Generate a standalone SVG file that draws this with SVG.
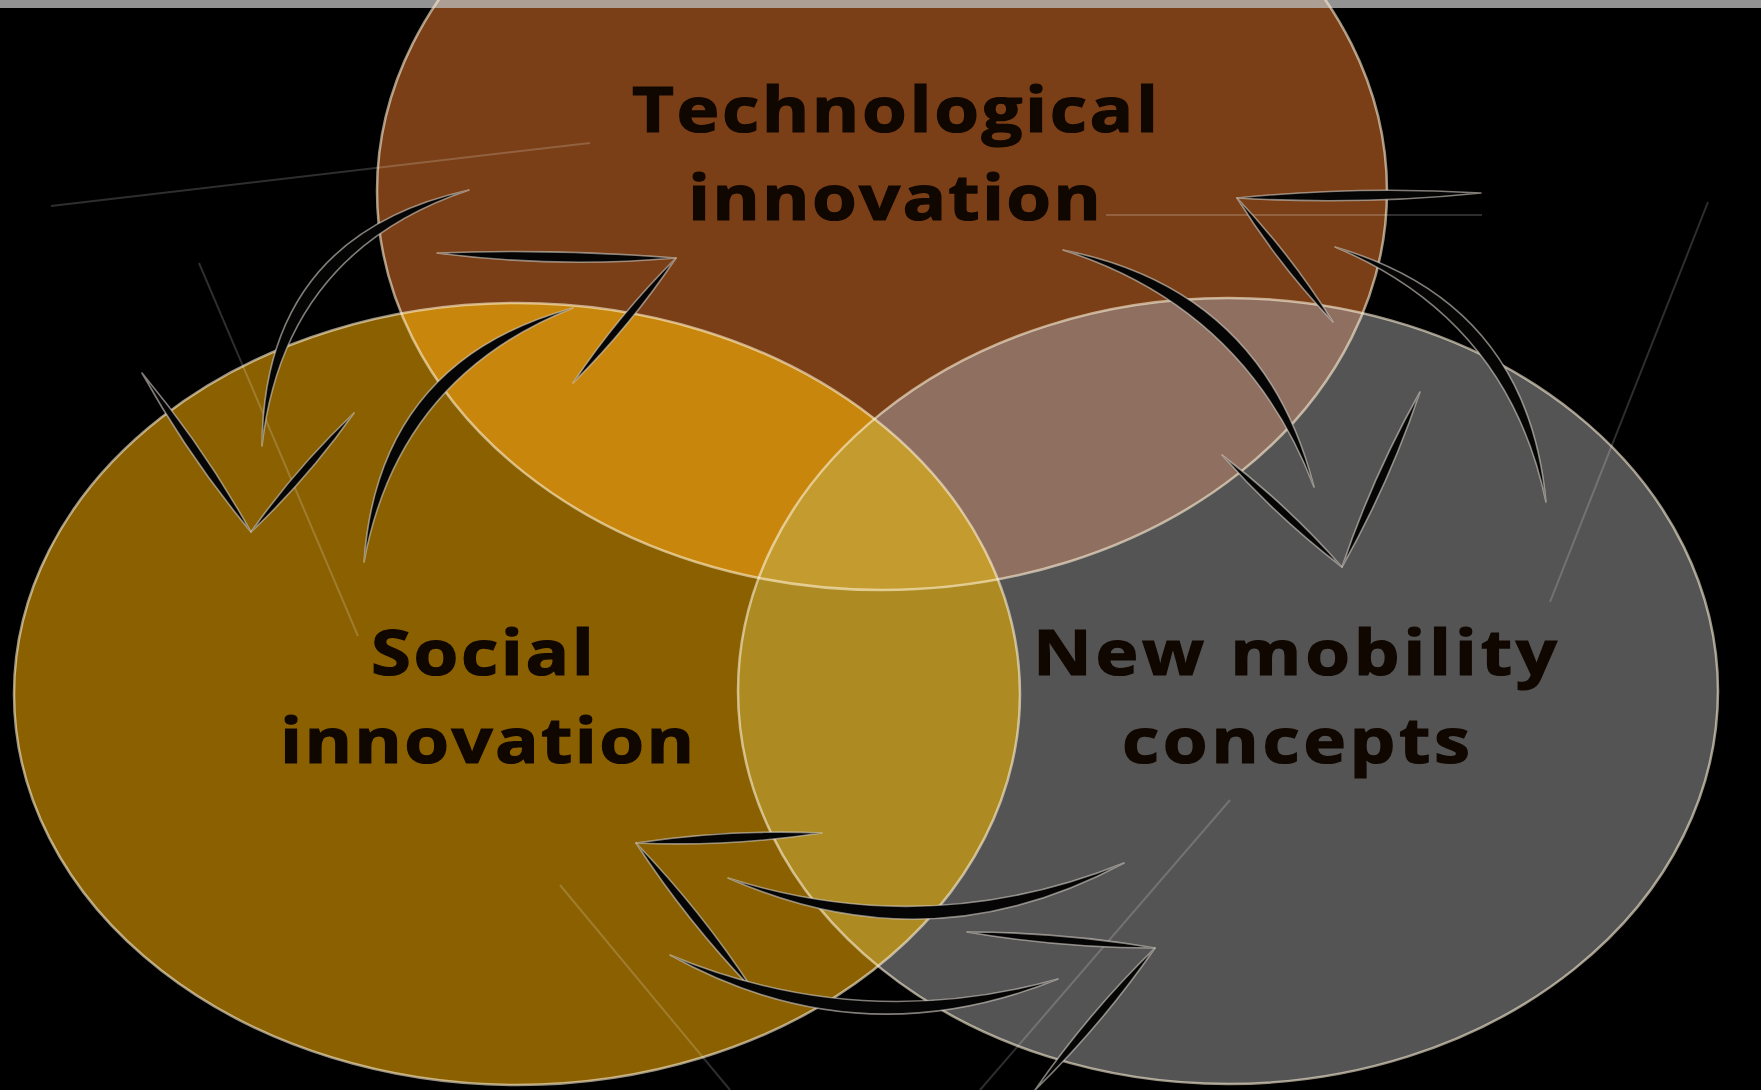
<svg xmlns="http://www.w3.org/2000/svg" width="1761" height="1090" viewBox="0 0 1761 1090">
<style>
.lbl{font-family:"Open Sans","DejaVu Sans",sans-serif;font-weight:700;font-size:63px;fill:#100700;stroke:#100700;stroke-width:1.2}
.edge{fill:none;stroke:#fff4d8;stroke-opacity:.6;stroke-width:2.5}
.faint{fill:none;stroke:#ffffff;stroke-opacity:.18;stroke-width:2}
.arr{fill:#050505;stroke:#d6d0c8;stroke-opacity:.6;stroke-width:1.6;stroke-linejoin:round}
</style>
<defs>
<clipPath id="cT"><ellipse cx="882" cy="191" rx="505" ry="399"/></clipPath>
<clipPath id="cL"><ellipse cx="517" cy="694" rx="503" ry="391"/></clipPath>
</defs>
<rect width="1761" height="1090" fill="#000"/>
<rect width="1761" height="8" fill="#939393"/>
<g id="node-tech">
<ellipse cx="882" cy="191" rx="505" ry="399" fill="#7a3f16"/>
<rect width="1761" height="8" fill="#ae9f94" clip-path="url(#cT)"/>
</g>
<g id="node-social">
<ellipse cx="517" cy="694" rx="503" ry="391" fill="#8a6000"/>
</g>
<g id="node-mobility">
<ellipse cx="1228" cy="691" rx="490" ry="393" fill="#545454"/>
</g>
<g id="overlaps">
<g clip-path="url(#cT)">
<ellipse cx="517" cy="694" rx="503" ry="391" fill="#c8860c"/>
<ellipse cx="1228" cy="691" rx="490" ry="393" fill="#8f6f5f"/>
</g>
<g clip-path="url(#cL)">
<ellipse cx="1228" cy="691" rx="490" ry="393" fill="#ad8a22"/>
<g clip-path="url(#cT)">
<ellipse cx="1228" cy="691" rx="490" ry="393" fill="#c49b2f"/>
</g>
</g>
</g>
<g id="outlines">
<ellipse class="edge" cx="882" cy="191" rx="505" ry="399"/>
<ellipse class="edge" cx="517" cy="694" rx="503" ry="391"/>
<ellipse class="edge" cx="1228" cy="691" rx="490" ry="393" stroke="#e8e8e8"/>
</g>
<g id="faint-lines">
<line class="faint" x1="51" y1="206" x2="590" y2="143"/>
<line class="faint" x1="199" y1="263" x2="358" y2="636"/>
<line class="faint" x1="1106" y1="215" x2="1482" y2="215"/>
<line class="faint" x1="1708" y1="202" x2="1550" y2="602"/>
<line class="faint" x1="560" y1="885" x2="730" y2="1090"/>
<line class="faint" x1="1230" y1="800" x2="980" y2="1090"/>
</g>
<g id="labels">
<text class="lbl" transform="matrix(1.15,0,0,1,632,0)" x="0" y="132" textLength="457.4" lengthAdjust="spacing">Technological</text>
<text class="lbl" transform="matrix(1.15,0,0,1,688,0)" x="0" y="220" textLength="359.1" lengthAdjust="spacing">innovation</text>
<text class="lbl" transform="matrix(1.15,0,0,1,371,0)" x="0" y="675" textLength="193.9" lengthAdjust="spacing">Social</text>
<text class="lbl" transform="matrix(1.15,0,0,1,280,0)" x="0" y="763" textLength="360" lengthAdjust="spacing">innovation</text>
<text class="lbl" transform="matrix(1.15,0,0,1,1033,0)" x="0" y="675" textLength="455.7" lengthAdjust="spacing">New mobility</text>
<text class="lbl" transform="matrix(1.15,0,0,1,1122,0)" x="0" y="763" textLength="302.6" lengthAdjust="spacing">concepts</text>
</g>
<g id="connectors">
<path class="arr" d="M469,190 Q263.6,235.6 262,446 Q283.8,252 469,190Z"/>
<path class="arr" d="M142,373 Q203.9,447.4 251,532 Q189.1,457.6 142,373Z"/>
<path class="arr" d="M251,532 Q308.5,477.7 354,413 Q296.5,467.3 251,532Z"/>
<path class="arr" d="M364,562 Q378.2,360.7 573,308 Q398.2,377.3 364,562Z"/>
<path class="arr" d="M437,253 Q556.3,268.5 676,258 Q556.7,248.5 437,253Z"/>
<path class="arr" d="M676,258 Q630.7,325.6 573,383 Q618.3,315.4 676,258Z"/>
<path class="arr" d="M1063,250 Q1263.4,289.2 1314,487 Q1245.6,308.2 1063,250Z"/>
<path class="arr" d="M1222,455 Q1287.5,505.2 1342,567 Q1276.5,516.8 1222,455Z"/>
<path class="arr" d="M1342,567 Q1389.2,483.2 1420,392 Q1372.8,475.8 1342,567Z"/>
<path class="arr" d="M1546,502 Q1527.5,302.5 1335,247 Q1507.5,319.1 1546,502Z"/>
<path class="arr" d="M1481,193 Q1359.2,205.5 1237,198 Q1358.8,185.5 1481,193Z"/>
<path class="arr" d="M1237,198 Q1291.3,255.1 1333,322 Q1278.7,264.9 1237,198Z"/>
<path class="arr" d="M728,878 Q929.7,967.4 1124,863 Q928.7,941.4 728,878Z"/>
<path class="arr" d="M822,833 Q729.5,847 636,843 Q728.5,829 822,833Z"/>
<path class="arr" d="M636,843 Q701.5,910.9 753,990 Q687.5,922.1 636,843Z"/>
<path class="arr" d="M670,955 Q858.2,1059.8 1058,979 Q859.8,1033.8 670,955Z"/>
<path class="arr" d="M967,932 Q1060.3,948 1155,948 Q1061.7,932 967,932Z"/>
<path class="arr" d="M1155,948 Q1101.9,1024.8 1035,1090 Q1088.1,1013.2 1155,948Z"/>
</g>
</svg>
